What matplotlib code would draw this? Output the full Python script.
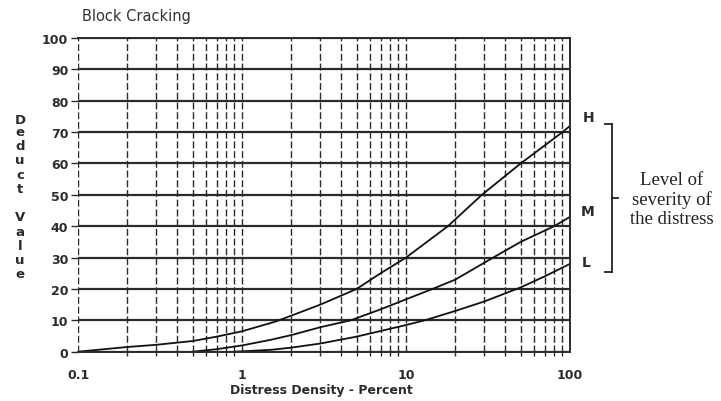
import matplotlib.pyplot as plt
from matplotlib.lines import Line2D
from matplotlib.ticker import FixedLocator, LogLocator, NullFormatter

# Deduct value curves for block cracking
h_density = [0.1, 0.2, 0.3, 0.5, 0.7, 1, 1.6, 2, 3, 5, 7, 10, 18, 29, 50, 90, 100]
h_deduct = [0, 1.5, 2.2, 3.4, 4.8, 6.5, 9.6, 11.5, 15, 20, 25, 30, 40, 50, 60, 70, 72]

m_density = [0.5, 0.7, 1, 1.5, 2, 3, 4.6, 7, 10, 14.5, 20, 34, 50, 80, 100]
m_deduct = [0, 0.8, 2, 3.8, 5.3, 7.8, 10, 13.5, 16.7, 20, 23, 30, 35, 40, 43]

l_density = [0.9, 1.5, 2, 3, 5, 7, 10, 13, 20, 30, 50, 70, 100]
l_deduct = [0, 0.6, 1.3, 2.6, 4.8, 6.6, 8.5, 10, 13, 16, 20.5, 24, 28]

x_ticks = [0.1, 1, 10, 100]
x_labels = ['0.1', '1', '10', '100']
y_ticks = list(range(0, 101, 10))

W, H = 721, 402
fig = plt.figure(figsize=(W / 100, H / 100), dpi=100)
ax = fig.add_axes([78 / W, 1 - 352.7 / H, (570 - 78) / W, (352.7 - 39) / H])

ink = '#2b2b2b'
ax.set_xscale('log')
ax.set_xlim(0.1, 100)
ax.set_ylim(0, 100)

# grid: dashed verticals at every log step, solid horizontals
ax.xaxis.set_major_locator(FixedLocator(x_ticks))
ax.xaxis.set_minor_locator(LogLocator(base=10, subs=range(2, 10)))
ax.xaxis.set_minor_formatter(NullFormatter())
ax.set_xticklabels(x_labels)
ax.set_yticks(y_ticks)
ax.grid(True, which='both', axis='x', color=ink, lw=1.0, linestyle=(0, (5, 2)))
ax.grid(True, which='major', axis='y', color=ink, lw=1.6, linestyle='-')

for side in ['top', 'right', 'bottom']:
    ax.spines[side].set_color(ink)
    ax.spines[side].set_linewidth(1.4)
ax.spines['left'].set_visible(False)

ax.tick_params(axis='x', which='major', length=0, pad=12, labelsize=9, colors=ink)
ax.tick_params(axis='x', which='minor', length=3, width=1, colors=ink)
ax.tick_params(axis='y', length=5, width=1, pad=2, labelsize=9, colors=ink)
for t in ax.get_xticklabels() + ax.get_yticklabels():
    t.set_fontweight('bold')

ax.plot(h_density, h_deduct, color='#111111', lw=1.3)
ax.plot(m_density, m_deduct, color='#111111', lw=1.3)
ax.plot(l_density, l_deduct, color='#111111', lw=1.3)

fig.text(321 / W, 1 - 391 / H, 'Distress Density - Percent', fontsize=9,
         fontweight='bold', color=ink, ha='center', va='center')

# title and stacked y label
fig.text(82 / W, 1 - 17 / H, 'Block Cracking', fontsize=10.5, color='#333333',
         ha='left', va='center')
for letter, yp in zip('Deduct', [120, 133, 147, 161, 176, 190]):
    fig.text(20 / W, 1 - yp / H, letter, fontsize=9.5, fontweight='bold', color=ink,
             ha='center', va='center')
for letter, yp in zip('Value', [218, 233, 247, 261, 275]):
    fig.text(20 / W, 1 - yp / H, letter, fontsize=9.5, fontweight='bold', color=ink,
             ha='center', va='center')

# severity labels and bracket
for letter, xp, yp in [('H', 589, 118), ('M', 588, 212), ('L', 586, 263)]:
    fig.text(xp / W, 1 - yp / H, letter, fontsize=10, fontweight='bold', color=ink,
             ha='center', va='center')

bx = 612
bracket = [([605, bx], [125, 125]), ([bx, bx], [125, 273]), ([605, bx], [273, 273]),
           ([bx, 618], [199, 199])]
for xs, ys in bracket:
    fig.add_artist(Line2D([x / W for x in xs], [1 - y / H for y in ys],
                          color='#222222', lw=1.3))

fig.text(672 / W, 1 - 200 / H, 'Level of\nseverity of\nthe distress',
         family='Liberation Serif', fontsize=13.5, color='#222222',
         ha='center', va='center', linespacing=1.15)

fig.savefig('out.png', dpi=100)
